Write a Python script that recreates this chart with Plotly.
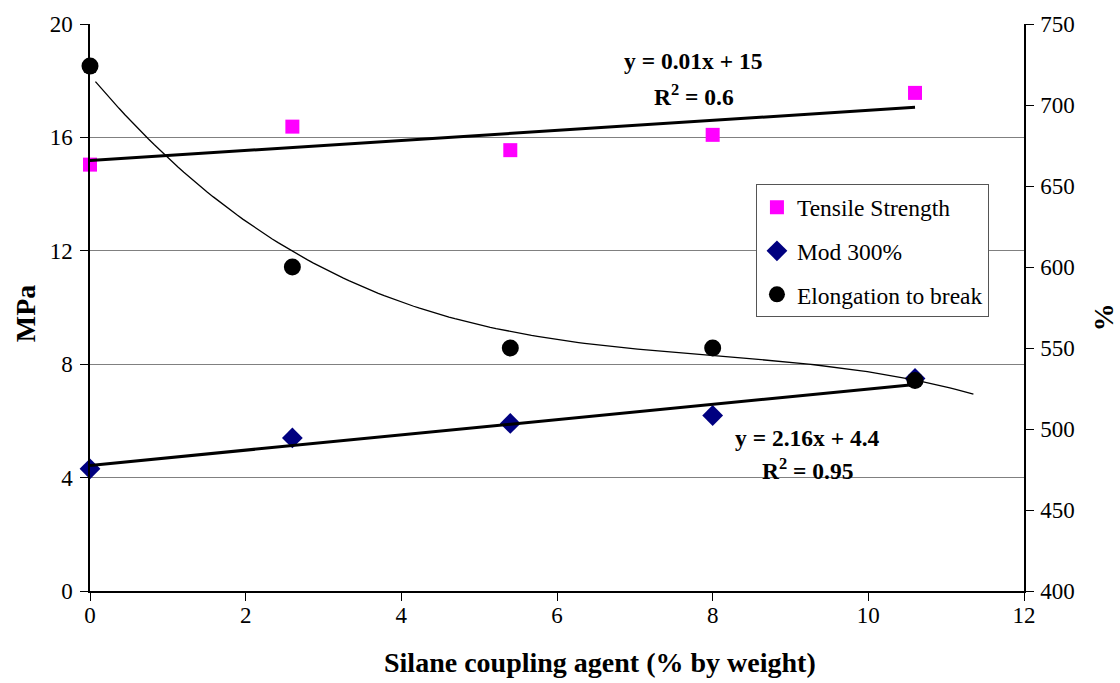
import numpy as np
import plotly.graph_objects as go

# Silane content of each compound (% by weight)
silane = [0, 2.6, 5.4, 8, 10.6]
# Mechanical properties
tensile_strength = [15.04, 16.38, 15.55, 16.09, 17.57]   # MPa
mod_300 = [4.31, 5.40, 5.91, 6.19, 7.50]                 # MPa
elongation = [724, 600, 550, 550, 530]                   # %

# Elongation trend curve, sampled along its length (x, %)
elong_trend_x = [0.07, 0.745, 0.967, 1.474, 2.59, 3.65, 5.35, 8.0, 10.6, 11.35]
elong_trend_y = [716, 679.5, 669.3, 643.8, 609.6, 586.5, 562, 544.7, 528.3, 523.2]

x_ticks = [0, 2, 4, 6, 8, 10, 12]
mpa_ticks = [0, 4, 8, 12, 16, 20]
pct_ticks = [400, 450, 500, 550, 600, 650, 700, 750]

FONT = "Times New Roman, Liberation Serif, DejaVu Serif, serif"

# least-squares linear trend lines
xs = np.array(silane, dtype=float)
ts_fit = np.polyfit(xs, tensile_strength, 1)
mod_fit = np.polyfit(xs, mod_300, 1)
x_lin = np.array([0.0, 10.6])

# smooth the elongation trend samples into a continuous curve
el_fit = np.polyfit(elong_trend_x, elong_trend_y, 3)
x_curve = np.linspace(elong_trend_x[0], elong_trend_x[-1], 150)

fig = go.Figure()

fig.add_trace(go.Scatter(
    x=silane, y=tensile_strength, mode="markers", name="Tensile Strength",
    legendgroup="ts", cliponaxis=False,
    marker=dict(symbol="square", size=14, color="#FF00FF"),
))
fig.add_trace(go.Scatter(
    x=silane, y=mod_300, mode="markers", name="Mod 300%",
    legendgroup="mod", cliponaxis=False,
    marker=dict(symbol="diamond", size=16, color="#000080"),
))
fig.add_trace(go.Scatter(
    x=x_lin, y=np.polyval(ts_fit, x_lin), mode="lines", showlegend=False,
    line=dict(color="black", width=3), hoverinfo="skip",
))
fig.add_trace(go.Scatter(
    x=x_lin, y=np.polyval(mod_fit, x_lin), mode="lines", showlegend=False,
    line=dict(color="black", width=3), hoverinfo="skip",
))
fig.add_trace(go.Scatter(
    x=x_curve, y=np.polyval(el_fit, x_curve), mode="lines", showlegend=False,
    line=dict(color="black", width=1.3),
    yaxis="y2", hoverinfo="skip",
))
fig.add_trace(go.Scatter(
    x=silane, y=elongation, mode="markers", name="Elongation to break",
    legendgroup="el", cliponaxis=False,
    marker=dict(symbol="circle", size=17, color="black"), yaxis="y2",
))

eq_font = dict(family=FONT, size=23.5, color="black")
annotations = [
    dict(x=7.75, y=18.71, text="<b>y = 0.01x + 15</b>"),
    dict(x=7.76, y=17.49, text="<b>R<sup>2</sup> = 0.6</b>"),
    dict(x=9.22, y=5.40, text="<b>y = 2.16x + 4.4</b>"),
    dict(x=9.22, y=4.31, text="<b>R<sup>2</sup> = 0.95</b>"),
]
for a in annotations:
    a.update(xref="x", yref="y", showarrow=False, font=eq_font,
             xanchor="center", yanchor="middle")

# axis titles
title_font = dict(family=FONT, size=28, color="black")
annotations += [
    dict(x=0.546, y=-0.126, xref="paper", yref="paper",
         text="<b>Silane coupling agent (% by weight)</b>"),
    dict(x=-0.0696, y=0.490, xref="paper", yref="paper",
         text="<b>MPa</b>", textangle=-90),
    dict(x=1.0846, y=0.483, xref="paper", yref="paper",
         text="<b>%</b>", textangle=-90),
]
for a in annotations[4:]:
    a.update(showarrow=False, font=title_font, xanchor="center", yanchor="middle")

fig.update_layout(
    width=1120, height=683,
    margin=dict(l=90, r=96, t=20, b=92),
    paper_bgcolor="white", plot_bgcolor="white",
    font=dict(family=FONT, size=23, color="black"),
    showlegend=True,
    legend=dict(
        x=0.713, y=0.717, xanchor="left", yanchor="top",
        bgcolor="white", bordercolor="#555555", borderwidth=1,
        font=dict(family=FONT, size=23.5, color="black"),
        itemwidth=30, tracegroupgap=10,
    ),
    xaxis=dict(
        range=[0, 12], tickvals=x_ticks, ticks="outside", ticklen=8,
        tickcolor="black", showline=True, linecolor="black", linewidth=1.5,
        showgrid=False, zeroline=False, ticklabelstandoff=-5,
        tickfont=dict(family=FONT, size=23),
    ),
    yaxis=dict(
        range=[0, 20], tickvals=mpa_ticks, ticks="outside", ticklen=8,
        tickcolor="black", showline=True, linecolor="black", linewidth=1.5,
        showgrid=True, gridcolor="#808080", gridwidth=1.2, zeroline=False,
        ticklabelstandoff=3,
        tickfont=dict(family=FONT, size=23),
    ),
    yaxis2=dict(
        range=[400, 750], tickvals=pct_ticks, ticks="outside", ticklen=8,
        tickcolor="black", showline=True, linecolor="black", linewidth=1.5,
        overlaying="y", side="right", showgrid=False, zeroline=False,
        ticklabelstandoff=2,
        tickfont=dict(family=FONT, size=23),
    ),
    annotations=annotations,
)

fig.write_html("out.html")
